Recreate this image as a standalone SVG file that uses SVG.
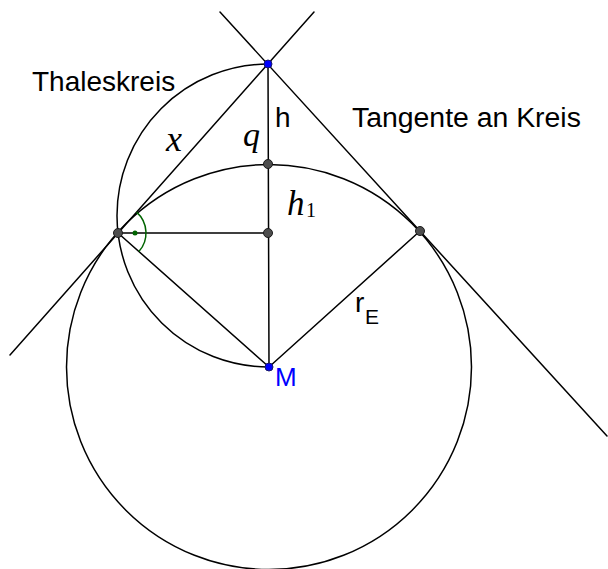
<svg xmlns="http://www.w3.org/2000/svg" width="608" height="569" viewBox="0 0 608 569">
<style>
.ln{stroke:#000;stroke-width:1.5;fill:none;stroke-linecap:round}
.pt{fill:#4d4d4d;stroke:#1a1a1a;stroke-width:1}
.bpt{fill:#0000ff;stroke:#1a1a66;stroke-width:1}
.sans{font-family:"Liberation Sans",Arial,sans-serif;fill:#000}
.ser{font-family:"Liberation Serif","Times New Roman",serif;font-style:italic;fill:#000}
</style>
<rect width="608" height="569" fill="#fff"/>
<g id="connectors">
<circle class="ln" cx="269" cy="367" r="202.5"/>
<path class="ln" d="M268,64 A151.5,151.5 0 0 0 269,367"/>
<line class="ln" x1="10" y1="355" x2="314" y2="12"/>
<line class="ln" x1="220" y1="12" x2="607" y2="436"/>
<line class="ln" x1="268" y1="64" x2="269" y2="367"/>
<line class="ln" x1="118" y1="233" x2="268" y2="233"/>
<line class="ln" x1="118" y1="233" x2="269" y2="367"/>
<line class="ln" x1="420" y1="231" x2="269" y2="367"/>
<path d="M136.6,212.1 A28,28 0 0 1 138.9,251.6" fill="none" stroke="#006400" stroke-width="1.5"/>
<circle cx="135" cy="233" r="2.5" fill="#006400"/>
</g>
<g id="L"><circle class="pt" cx="118" cy="233" r="4.5"/></g>
<g id="R"><circle class="pt" cx="420" cy="231" r="4.5"/></g>
<g id="F"><circle class="pt" cx="268" cy="233" r="4.5"/></g>
<g id="P"><circle class="pt" cx="268" cy="164" r="4.5"/></g>
<g id="T"><circle class="bpt" cx="268" cy="64" r="4"/></g>
<g id="M"><circle class="bpt" cx="269" cy="367" r="4"/>
<text class="sans" x="275" y="386" font-size="26" style="fill:#0000ff">M</text></g>
<g id="labels">
<text class="sans" x="32" y="91" font-size="28">Thaleskreis</text>
<text class="sans" x="352" y="127" font-size="28.4">Tangente an Kreis</text>
<text class="sans" x="275" y="127" font-size="28">h</text>
<text class="ser" x="166" y="151" font-size="36">x</text>
<text class="ser" x="243" y="146" font-size="34">q</text>
<text class="ser" x="287" y="215" font-size="35">h</text>
<text class="ser" x="306" y="217" font-size="20" style="font-style:normal">1</text>
<text class="sans" x="355" y="312" font-size="28">r</text>
<text class="sans" x="365" y="324" font-size="21">E</text>
</g>
</svg>
